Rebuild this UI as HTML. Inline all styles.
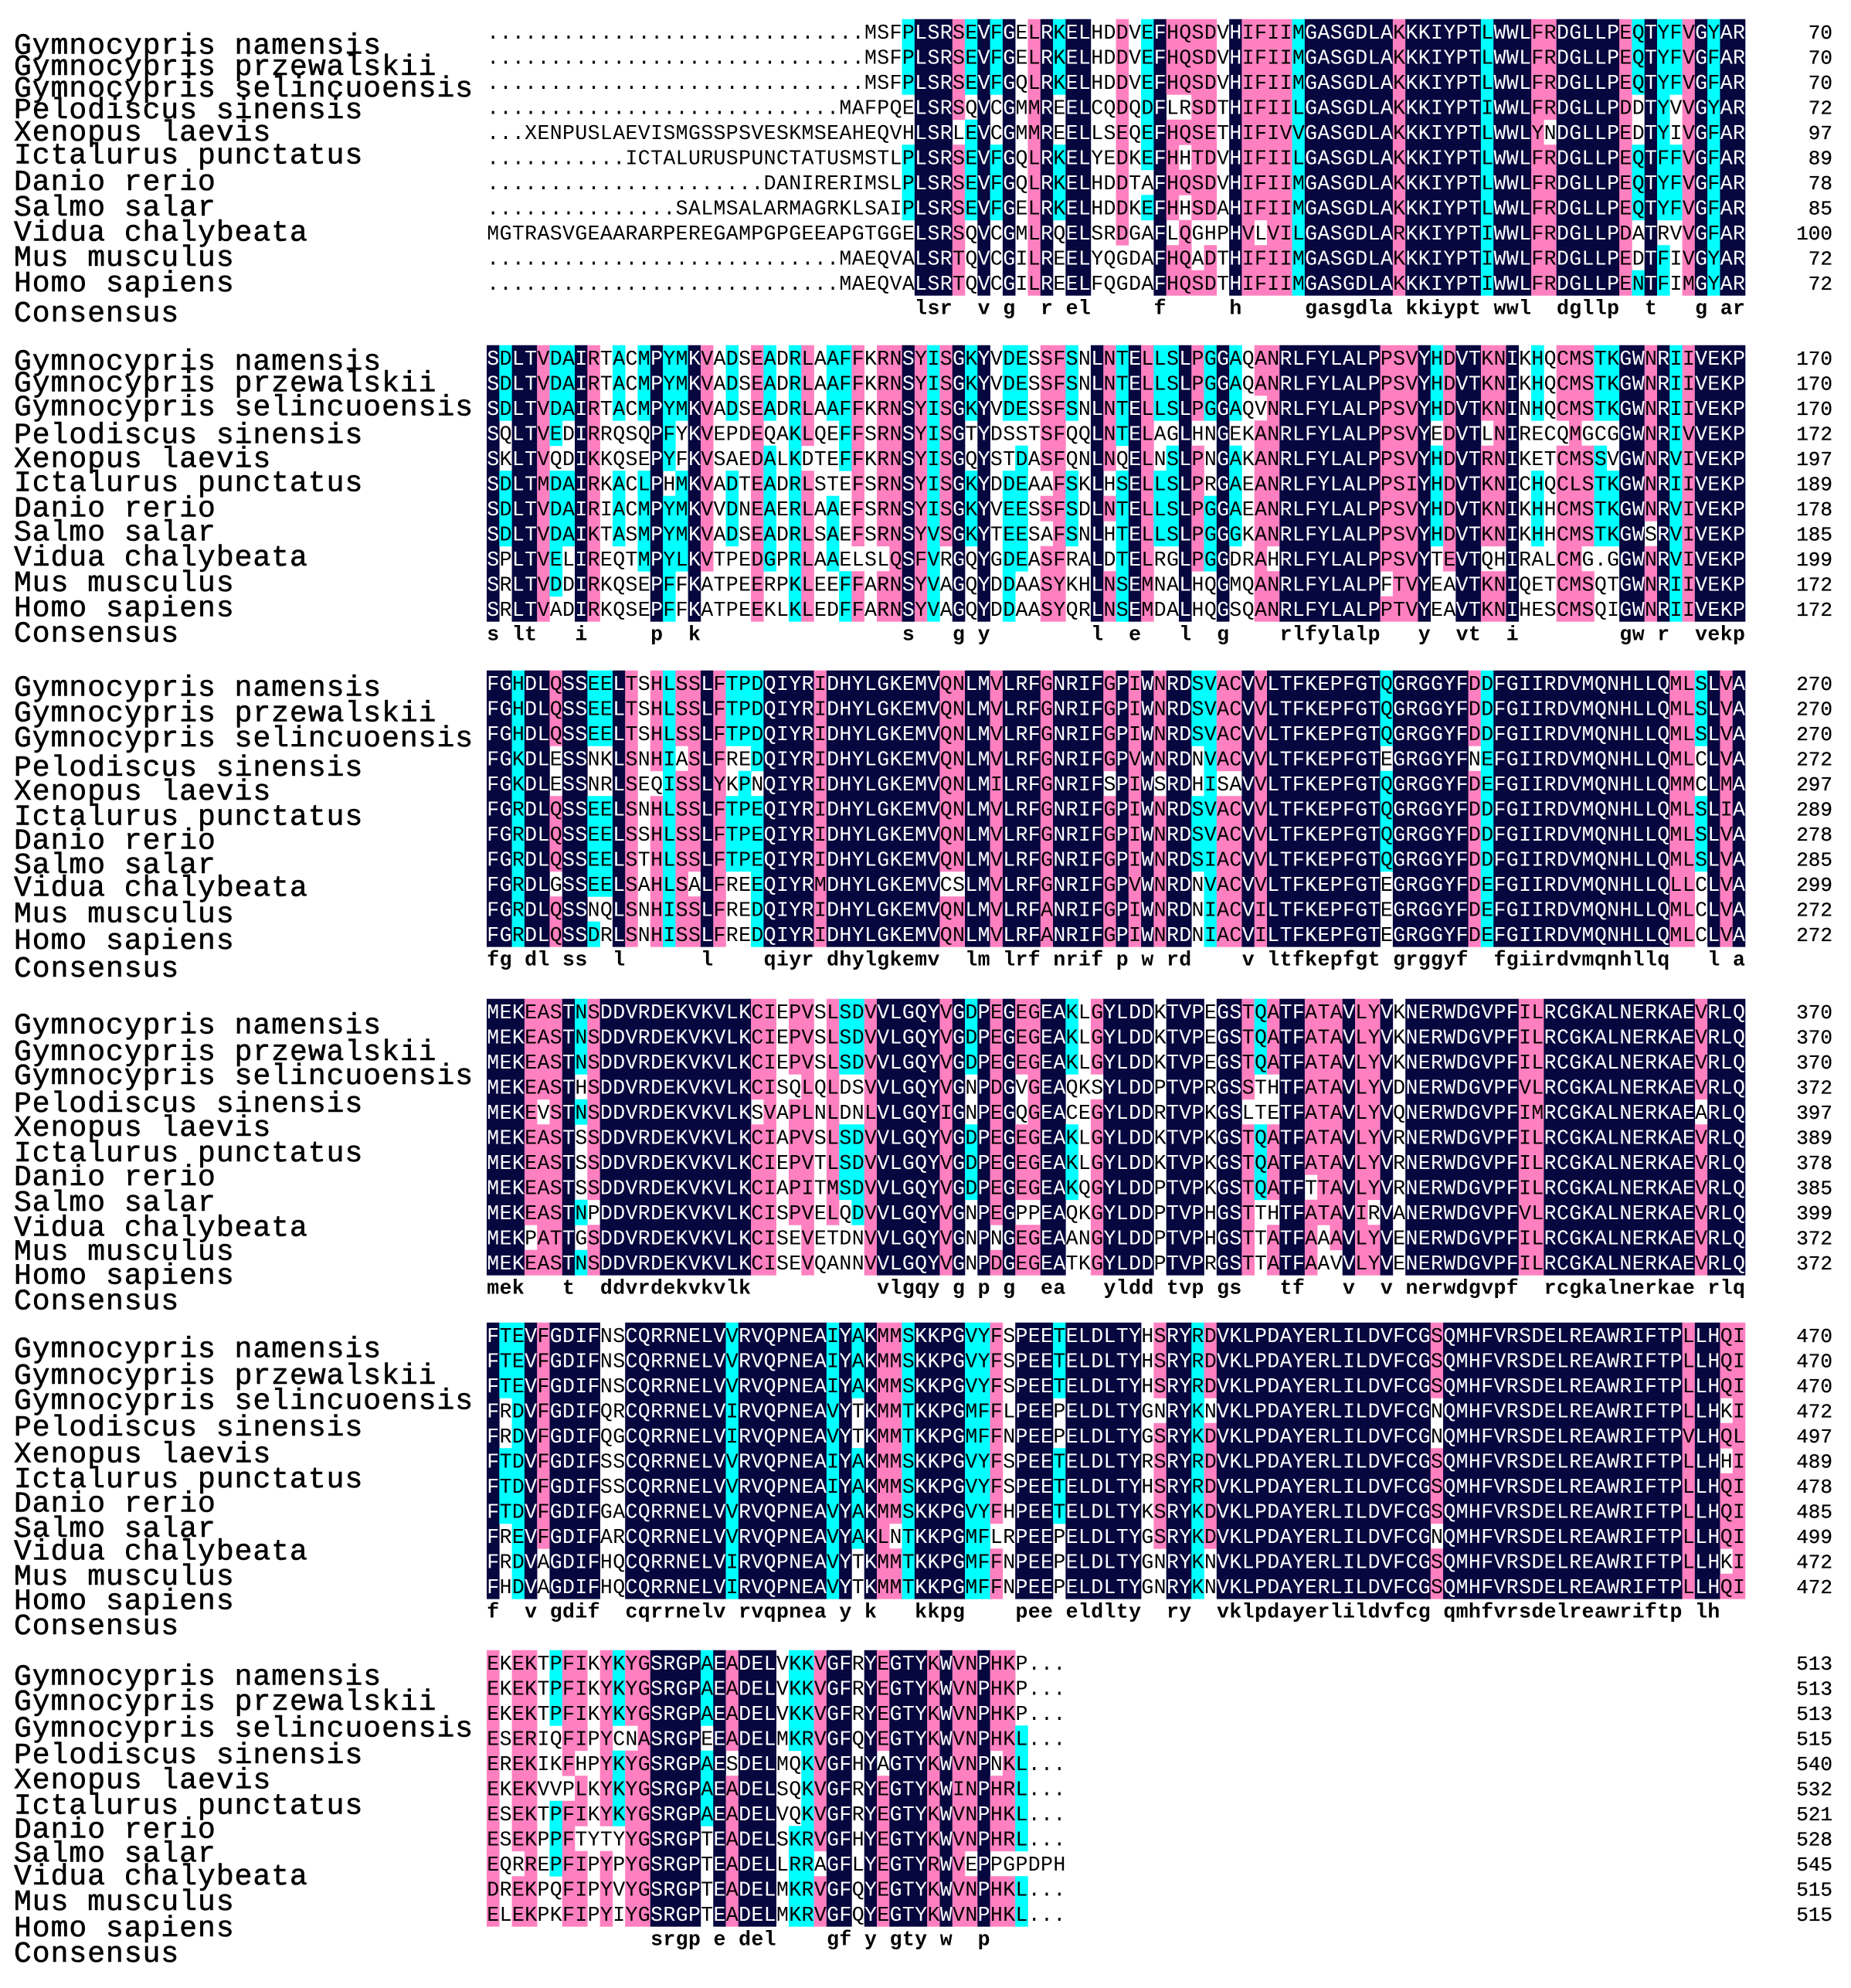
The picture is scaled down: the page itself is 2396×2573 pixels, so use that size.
<!DOCTYPE html>
<html><head><meta charset="utf-8"><title>Alignment</title>
<style>
html,body{margin:0;padding:0;background:#fff;}
svg{display:block;}
</style></head>
<body>
<svg id="chart" xmlns="http://www.w3.org/2000/svg" width="2396" height="2573" viewBox="0 0 2396 2573">
<rect x="0" y="0" width="2396" height="2573" fill="#ffffff"/>
</svg>
<script>
const speciesNames = ["Gymnocypris namensis","Gymnocypris przewalskii","Gymnocypris selincuoensis","Pelodiscus sinensis","Xenopus laevis","Ictalurus punctatus","Danio rerio","Salmo salar","Vidua chalybeata","Mus musculus","Homo sapiens"];
const consensusLabel = "Consensus";
const block1 = [
"..............................MSFPLSRSEVFGELRKELHDDVEFHQSDVHIFIIMGASGDLAKKKIYPTLWWLFRDGLLPEQTYFVGYAR",
"..............................MSFPLSRSEVFGELRKELHDDVEFHQSDVHIFIIMGASGDLAKKKIYPTLWWLFRDGLLPEQTYFVGFAR",
"..............................MSFPLSRSEVFGQLRKELHDDVEFHQSDVHIFIIMGASGDLAKKKIYPTLWWLFRDGLLPEQTYFVGFAR",
"............................MAFPQELSRSQVCGMMREELCQDQDFLRSDTHIFIILGASGDLAKKKIYPTIWWLFRDGLLPDDTYVVGYAR",
"...XENPUSLAEVISMGSSPSVESKMSEAHEQVHLSRLEVCGMMREELLSEQEFHQSETHIFIVVGASGDLAKKKIYPTLWWLYNDGLLPEDTYIVGFAR",
"...........ICTALURUSPUNCTATUSMSTLPLSRSEVFGQLRKELYEDKEFHHTDVHIFIILGASGDLAKKKIYPTLWWLFRDGLLPEQTFFVGFAR",
"......................DANIRERIMSLPLSRSEVFGQLRKELHDDTAFHQSDVHIFIIMGASGDLAKKKIYPTLWWLFRDGLLPEQTYFVGFAR",
"...............SALMSALARMAGRKLSAIPLSRSEVFGELRKELHDDKEFHHSDAHIFIIMGASGDLAKKKIYPTLWWLFRDGLLPEQTYFVGFAR",
"MGTRASVGEAARARPEREGAMPGPGEEAPGTGGELSRSQVCGMLRQELSRDGAFLQGHPHVLVILGASGDLARKKIYPTIWWLFRDGLLPDATRVVGFAR",
"............................MAEQVALSRTQVCGILREELYQGDAFHQADTHIFIIMGASGDLAKKKIYPTIWWLFRDGLLPEDTFIVGYAR",
"............................MAEQVALSRTQVCGILREELFQGDAFHQSDTHIFIIMGASGDLAKKKIYPTIWWLFRDGLLPENTFIMGYAR"];
const block2 = [
"SDLTVDAIRTACMPYMKVADSEADRLAAFFKRNSYISGKYVDESSFSNLNTELLSLPGGAQANRLFYLALPPSVYHDVTKNIKHQCMSTKGWNRIIVEKP",
"SDLTVDAIRTACMPYMKVADSEADRLAAFFKRNSYISGKYVDESSFSNLNTELLSLPGGAQANRLFYLALPPSVYHDVTKNIKHQCMSTKGWNRIIVEKP",
"SDLTVDAIRTACMPYMKVADSEADRLAAFFKRNSYISGKYVDESSFSNLNTELLSLPGGAQVNRLFYLALPPSVYHDVTKNINHQCMSTKGWNRIIVEKP",
"SQLTVEDIRRQSQPFYKVEPDEQAKLQEFFSRNSYISGTYDSSTSFQQLNTELAGLHNGEKANRLFYLALPPSVYEDVTLNIRECQMGCGGWNRIVVEKP",
"SKLTVQDIKKQSEPYFKVSAEDALKDTEFFKRNSYISGQYSTDASFQNLNQELNSLPNGAKANRLFYLALPPSVYHDVTRNIKETCMSSVGWNRVIVEKP",
"SDLTMDAIRKACLPHMKVADTEADRLSTEFSRNSYISGKYDDEAAFSKLHSELLSLPRGAEANRLFYLALPPSIYHDVTKNICHQCLSTKGWNRIIVEKP",
"SDLTVDAIRIACMPYMKVVDNEAERLAAEFSRNSYISGKYVEESSFSDLNTELLSLPGGAEANRLFYLALPPSVYHDVTKNIKHHCMSTKGWNRVIVEKP",
"SDLTVDAIKTASMPYMKVADSEADRLSAEFSRNSYVSGKYTEESAFSNLHTELLSLPGGGKANRLFYLALPPSVYHDVTKNIKHHCMSTKGWSRVIVEKP",
"SPLTVELIREQTMPYLKVTPEDGPRLAAELSLQSFVRGQYGDEASFRALDTELRGLPGGDRAHRLFYLALPPSVYTEVTQHIRALCMG.GGWNRVIVEKP",
"SRLTVDDIRKQSEPFFKATPEERPKLEEFFARNSYVAGQYDDAASYKHLNSEMNALHQGMQANRLFYLALPFTVYEAVTKNIQETCMSQTGWNRIIVEKP",
"SRLTVADIRKQSEPFFKATPEEKLKLEDFFARNSYVAGQYDDAASYQRLNSEMDALHQGSQANRLFYLALPPTVYEAVTKNIHESCMSQIGWNRIIVEKP"];
const block3 = [
"FGHDLQSSEELTSHLSSLFTPDQIYRIDHYLGKEMVQNLMVLRFGNRIFGPIWNRDSVACVVLTFKEPFGTQGRGGYFDDFGIIRDVMQNHLLQMLSLVA",
"FGHDLQSSEELTSHLSSLFTPDQIYRIDHYLGKEMVQNLMVLRFGNRIFGPIWNRDSVACVVLTFKEPFGTQGRGGYFDDFGIIRDVMQNHLLQMLSLVA",
"FGHDLQSSEELTSHLSSLFTPDQIYRIDHYLGKEMVQNLMVLRFGNRIFGPIWNRDSVACVVLTFKEPFGTQGRGGYFDDFGIIRDVMQNHLLQMLSLVA",
"FGKDLESSNKLSNHIASLFREDQIYRIDHYLGKEMVQNLMVLRFGNRIFGPVWNRDNVACVVLTFKEPFGTEGRGGYFNEFGIIRDVMQNHLLQMLCLVA",
"FGKDLESSNRLSEQISSLYKPNQIYRIDHYLGKEMVQNLMILRFGNRIFSPIWSRDHISAVVLTFKEPFGTQGRGGYFDEFGIIRDVMQNHLLQMMCLMA",
"FGRDLQSSEELSNHLSSLFTPEQIYRIDHYLGKEMVQNLMVLRFGNRIFGPIWNRDSVACVVLTFKEPFGTQGRGGYFDDFGIIRDVMQNHLLQMLSLIA",
"FGRDLQSSEELSSHLSSLFTPEQIYRIDHYLGKEMVQNLMVLRFGNRIFGPIWNRDSVACVVLTFKEPFGTQGRGGYFDDFGIIRDVMQNHLLQMLSLVA",
"FGRDLQSSEELSTHLSSLFTPEQIYRIDHYLGKEMVQNLMVLRFGNRIFGPIWNRDSIACVVLTFKEPFGTQGRGGYFDDFGIIRDVMQNHLLQMLSLVA",
"FGRDLGSSEELSAHLSALFREEQIYRMDHYLGKEMVCSLMVLRFGNRIFGPVWNRDNVACVVLTFKEPFGTEGRGGYFDEFGIIRDVMQNHLLQLLCLVA",
"FGRDLQSSNQLSNHISSLFREDQIYRIDHYLGKEMVQNLMVLRFANRIFGPIWNRDNIACVILTFKEPFGTEGRGGYFDEFGIIRDVMQNHLLQMLCLVA",
"FGRDLQSSDRLSNHISSLFREDQIYRIDHYLGKEMVQNLMVLRFANRIFGPIWNRDNIACVILTFKEPFGTEGRGGYFDEFGIIRDVMQNHLLQMLCLVA"];
const block4 = [
"MEKEASTNSDDVRDEKVKVLKCIEPVSLSDVVLGQYVGDPEGEGEAKLGYLDDKTVPEGSTQATFATAVLYVKNERWDGVPFILRCGKALNERKAEVRLQ",
"MEKEASTNSDDVRDEKVKVLKCIEPVSLSDVVLGQYVGDPEGEGEAKLGYLDDKTVPEGSTQATFATAVLYVKNERWDGVPFILRCGKALNERKAEVRLQ",
"MEKEASTNSDDVRDEKVKVLKCIEPVSLSDVVLGQYVGDPEGEGEAKLGYLDDKTVPEGSTQATFATAVLYVKNERWDGVPFILRCGKALNERKAEVRLQ",
"MEKEASTHSDDVRDEKVKVLKCISQLQLDSVVLGQYVGNPDGVGEAQKSYLDDPTVPRGSSTHTFATAVLYVDNERWDGVPFVLRCGKALNERKAEVRLQ",
"MEKEVSTNSDDVRDEKVKVLKSVAPLNLDNLVLGQYIGNPEGQGEACEGYLDDRTVPKGSLTETFATAVLYVQNERWDGVPFIMRCGKALNERKAEARLQ",
"MEKEASTSSDDVRDEKVKVLKCIAPVSLSDVVLGQYVGDPEGEGEAKLGYLDDKTVPKGSTQATFATAVLYVRNERWDGVPFILRCGKALNERKAEVRLQ",
"MEKEASTSSDDVRDEKVKVLKCIEPVTLSDVVLGQYVGDPEGEGEAKLGYLDDKTVPKGSTQATFATAVLYVRNERWDGVPFILRCGKALNERKAEVRLQ",
"MEKEASTSSDDVRDEKVKVLKCIAPITMSDVVLGQYVGDPEGEGEAKQGYLDDPTVPKGSTQATFTTAVLYVRNERWDGVPFILRCGKALNERKAEVRLQ",
"MEKEASTNPDDVRDEKVKVLKCISPVELQDVVLGQYVGNPEGPPEAQKGYLDDPTVPHGSTTHTFATAVIRVANERWDGVPFVLRCGKALNERKAEVRLQ",
"MEKPATTGSDDVRDEKVKVLKCISEVETDNVVLGQYVGNPNGEGEAANGYLDDPTVPHGSTTATFAAAVLYVENERWDGVPFILRCGKALNERKAEVRLQ",
"MEKEASTNSDDVRDEKVKVLKCISEVQANNVVLGQYVGNPDGEGEATKGYLDDPTVPRGSTTATFAAVVLYVENERWDGVPFILRCGKALNERKAEVRLQ"];
const block5 = [
"FTEVFGDIFNSCQRRNELVVRVQPNEAIYAKMMSKKPGVYFSPEETELDLTYHSRYRDVKLPDAYERLILDVFCGSQMHFVRSDELREAWRIFTPLLHQI",
"FTEVFGDIFNSCQRRNELVVRVQPNEAIYAKMMSKKPGVYFSPEETELDLTYHSRYRDVKLPDAYERLILDVFCGSQMHFVRSDELREAWRIFTPLLHQI",
"FTEVFGDIFNSCQRRNELVVRVQPNEAIYAKMMSKKPGVYFSPEETELDLTYHSRYRDVKLPDAYERLILDVFCGSQMHFVRSDELREAWRIFTPLLHQI",
"FRDVFGDIFQRCQRRNELVIRVQPNEAVYTKMMTKKPGMFFLPEEPELDLTYGNRYKNVKLPDAYERLILDVFCGNQMHFVRSDELREAWRIFTPLLHKI",
"FRDVFGDIFQGCQRRNELVIRVQPNEAVYTKMMTKKPGMFFNPEEPELDLTYGSRYKDVKLPDAYERLILDVFCGNQMHFVRSDELREAWRIFTPVLHQL",
"FTDVFGDIFSSCQRRNELVVRVQPNEAIYAKMMSKKPGVYFSPEETELDLTYRSRYRDVKLPDAYERLILDVFCGSQMHFVRSDELREAWRIFTPLLHHI",
"FTDVFGDIFSSCQRRNELVVRVQPNEAIYAKMMSKKPGVYFSPEETELDLTYHSRYRDVKLPDAYERLILDVFCGSQMHFVRSDELREAWRIFTPLLHQI",
"FTDVFGDIFGACQRRNELVVRVQPNEAVYAKMMSKKPGVYFHPEETELDLTYKSRYKDVKLPDAYERLILDVFCGSQMHFVRSDELREAWRIFTPLLHQI",
"FREVFGDIFARCQRRNELVVRVQPNEAVYAKLNTKKPGMFLRPEEPELDLTYGSRYKDVKLPDAYERLILDVFCGNQMHFVRSDELREAWRIFTPLLHQI",
"FRDVAGDIFHQCQRRNELVIRVQPNEAVYTKMMTKKPGMFFNPEEPELDLTYGNRYKNVKLPDAYERLILDVFCGSQMHFVRSDELREAWRIFTPLLHKI",
"FHDVAGDIFHQCQRRNELVIRVQPNEAVYTKMMTKKPGMFFNPEEPELDLTYGNRYKNVKLPDAYERLILDVFCGSQMHFVRSDELREAWRIFTPLLHQI"];
const block6 = [
"EKEKTPFIKYKYGSRGPAEADELVKKVGFRYEGTYKWVNPHKP...",
"EKEKTPFIKYKYGSRGPAEADELVKKVGFRYEGTYKWVNPHKP...",
"EKEKTPFIKYKYGSRGPAEADELVKKVGFRYEGTYKWVNPHKP...",
"ESERIQFIPYCNASRGPEEADELMKRVGFQYEGTYKWVNPHKL...",
"EREKIKFHPYKYGSRGPAESDELMQKVGFHYAGTYKWVNPNKL...",
"EKEKVVPLKYKYGSRGPAEADELSQKVGFRYEGTYKWINPHRL...",
"ESEKTPFIKYKYGSRGPAEADELVQKVGFRYEGTYKWVNPHKL...",
"ESEKPPFTYTYYGSRGPTEADELSKRVGFHYEGTYKWVNPHRL...",
"EQRREPFIPYPYGSRGPTEADELLRRAGFLYEGTYRWVEPPGPDPH",
"DREKPQFIPYVYGSRGPTEADELMKRVGFQYEGTYKWVNPHKL...",
"ELEKPKFIPYIYGSRGPTEADELMKRVGFQYEGTYKWVNPHKL..."];
const endNumbers1 = [70,70,70,72,97,89,78,85,100,72,72];
const endNumbers2 = [170,170,170,172,197,189,178,185,199,172,172];
const endNumbers3 = [270,270,270,272,297,289,278,285,299,272,272];
const endNumbers4 = [370,370,370,372,397,389,378,385,399,372,372];
const endNumbers5 = [470,470,470,472,497,489,478,485,499,472,472];
const endNumbers6 = [513,513,513,515,540,532,521,528,545,515,515];

/* ---- layout (pixels, not data) ---- */
const S = 1.6366;
const seqX0 = 630, cw = 16.29, rowH = 32.5;
const blockTop = [41, 463, 884, 1309, 1728, 2152];
const nameYdisp = [
 [35,52,69,86,104,122,143,163,183,203,223,247],
 [285,302,321,343,362,381,401,420,440,460,480,500],
 [543,563,583,606,625,645,664,683,701,722,743,765],
 [810,831,850,872,891,911,930,950,970,989,1008,1028],
 [1066,1087,1107,1128,1149,1169,1188,1208,1226,1246,1265,1285],
 [1325,1345,1366,1387,1407,1427,1446,1465,1483,1503,1524,1544]];
const NAVY = "#07073f", PINK = "#ff80c0", CYAN = "#00ffff";
const groups = ["ILVM","FYW","KRH","DE","NQ","ST","AG"];
function similar(a,b){ if(a===b) return true; for(const g of groups){ if(g.indexOf(a)>=0 && g.indexOf(b)>=0) return true;} return false; }

const svg = document.getElementById('chart');
const NS = "http://www.w3.org/2000/svg";
const blocks = [block1,block2,block3,block4,block5,block6];
const ends = [endNumbers1,endNumbers2,endNumbers3,endNumbers4,endNumbers5,endNumbers6];

blocks.forEach(function(rows, b){
  const g = document.createElementNS(NS,'g');
  
  
  svg.appendChild(g);
  const ncol = Math.max.apply(null, rows.map(r=>r.length));
  const colColors = rows.map(()=>[]);
  let cons = "";
  for(let c=0;c<ncol;c++){
    const cnt = {};
    rows.forEach(r=>{ const ch=r[c]; if(ch && ch!=='.') cnt[ch]=(cnt[ch]||0)+1; });
    let top=null, n=0;
    for(const k in cnt){ if(cnt[k]>n){n=cnt[k];top=k;} }
    let level=null;
    if(n===rows.length) level=NAVY; else if(n>=8) level=PINK; else if(n>=6) level=CYAN;
    cons += (n===rows.length && top) ? top.toLowerCase() : " ";
    rows.forEach((r,i)=>{
      const ch=r[c];
      colColors[i][c] = (level && ch && ch!=='.' && similar(ch,top)) ? level : null;
    });
  }
  rows.forEach(function(r, i){
    const yc = blockTop[b] + i*rowH;
    let c=0;
    while(c<r.length){
      const col = colColors[i][c];
      if(!col){c++;continue;}
      let e=c; while(e<r.length && colColors[i][e]===col) e++;
      const rect = document.createElementNS(NS,'rect');
      
      
      rect.setAttribute('x', (seqX0 + c*cw).toFixed(2));
      rect.setAttribute('y', (yc - rowH/2).toFixed(2));
      rect.setAttribute('width', ((e-c)*cw + 0.3).toFixed(2));
      rect.setAttribute('height', (rowH + 0.4).toFixed(2));
      rect.setAttribute('fill', col);
      g.appendChild(rect);
      c=e;
    }
    const t = document.createElementNS(NS,'text');
    
    
    const xs=[]; for(let k=0;k<r.length;k++) xs.push((seqX0 + k*cw + 0.3).toFixed(2));
    t.setAttribute('x', xs.join(' '));
    t.setAttribute('y', (yc + 9).toFixed(2));
    t.setAttribute('font-family', '"Liberation Mono", monospace');
    t.setAttribute('font-size', '26.5');
    let k=0;
    while(k<r.length){
      const dark = colColors[i][k]===NAVY;
      let e=k; while(e<r.length && (colColors[i][e]===NAVY)===dark) e++;
      const sp = document.createElementNS(NS,'tspan');
      sp.setAttribute('fill', dark ? '#ffffff' : '#000000');
      sp.textContent = r.slice(k,e);
      t.appendChild(sp);
      k=e;
    }
    g.appendChild(t);
    const num = document.createElementNS(NS,'text');
    
    
    num.setAttribute('x', 2372);
    num.setAttribute('y', (yc + 9).toFixed(2));
    num.setAttribute('text-anchor', 'end');
    num.setAttribute('font-family', '"Liberation Mono", monospace');
    num.setAttribute('font-size', '26');
    num.setAttribute('stroke', '#000');
    num.setAttribute('stroke-width', '0.3');
    num.textContent = ends[b][i];
    g.appendChild(num);
    const nm = document.createElementNS(NS,'text');
    
    
    nm.setAttribute('x', 18);
    nm.setAttribute('y', (nameYdisp[b][i]*S + 12).toFixed(2));
    nm.setAttribute('font-family', '"Liberation Mono", monospace');
    nm.setAttribute('font-size', '38');
    nm.setAttribute('letter-spacing', '1');
    nm.setAttribute('stroke', '#000');
    nm.setAttribute('stroke-width', '0.6');
    nm.textContent = speciesNames[i];
    g.appendChild(nm);
  });
  const yc = blockTop[b] + rows.length*rowH;
  const ct = document.createElementNS(NS,'text');
  
  
  const xs=[]; for(let k=0;k<cons.length;k++) xs.push((seqX0 + k*cw + 0.3).toFixed(2));
  ct.setAttribute('x', xs.join(' '));
  ct.setAttribute('y', (yc + 8).toFixed(2));
  ct.setAttribute('font-family', '"Liberation Mono", monospace');
  ct.setAttribute('font-size', '26.5');
  ct.setAttribute('font-weight', 'bold');
  ct.setAttribute('xml:space', 'preserve');
  ct.style.whiteSpace = 'pre';
  ct.textContent = cons;
  g.appendChild(ct);
  const cl = document.createElementNS(NS,'text');
  
  
  cl.setAttribute('x', 18);
  cl.setAttribute('y', (nameYdisp[b][11]*S + 12).toFixed(2));
  cl.setAttribute('font-family', '"Liberation Mono", monospace');
  cl.setAttribute('font-size', '38');
  cl.setAttribute('letter-spacing', '1');
  cl.setAttribute('stroke', '#000');
  cl.setAttribute('stroke-width', '0.6');
  cl.textContent = consensusLabel;
  g.appendChild(cl);
});
</script>
</body></html>
